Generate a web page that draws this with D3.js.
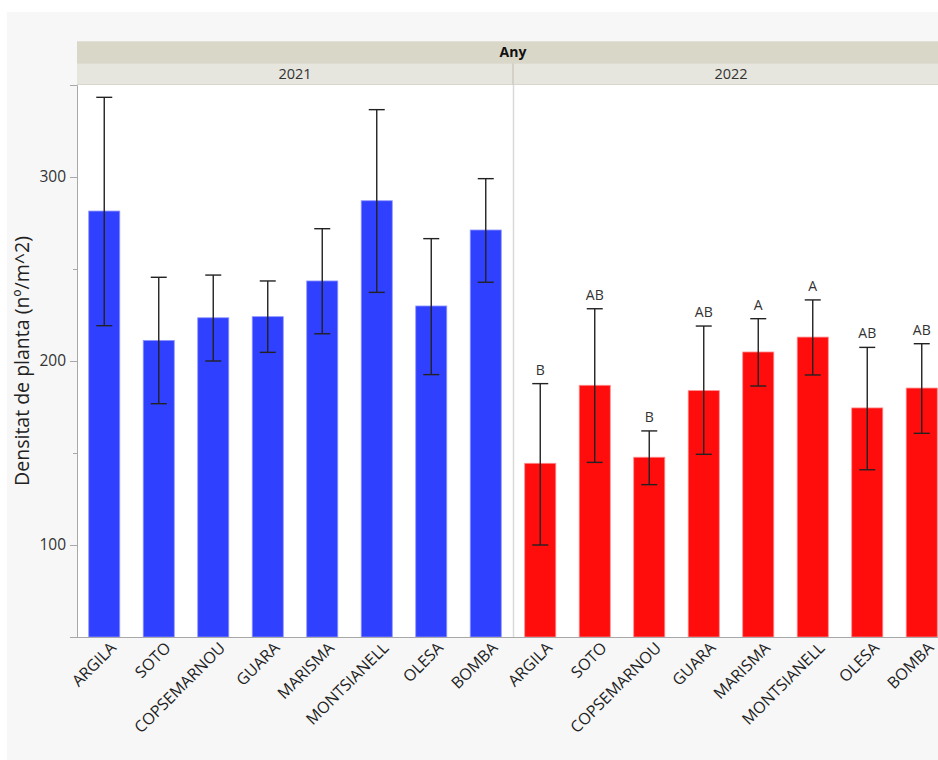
<!DOCTYPE html>
<html><head><meta charset="utf-8">
<script src="https://cdn.jsdelivr.net/npm/d3@7"></script>
<style>
html,body{margin:0;padding:0;background:#ffffff;overflow:hidden;}
svg{display:block;}
text{font-family:"Open Sans","Noto Sans",sans-serif;}
</style></head>
<body>
<svg id="c" width="938" height="760"></svg>
<script>
const categories = ["ARGILA","SOTO","COPSEMARNOU","GUARA","MARISMA","MONTSIANELL","OLESA","BOMBA"];
const years = ["2021","2022"];
const means2021 = [281.5, 211.2, 223.5, 224.1, 243.5, 287.1, 229.9, 271.2];
const upper2021 = [343.3, 245.5, 246.7, 243.5, 271.9, 336.6, 266.5, 299.1];
const lower2021 = [219.2, 176.8, 200.0, 204.7, 214.8, 237.3, 192.6, 242.8];
const means2022 = [144.4, 186.8, 147.7, 183.9, 204.9, 213.0, 174.5, 185.3];
const upper2022 = [187.7, 228.4, 162.0, 219.0, 223.0, 233.2, 207.4, 209.4];
const lower2022 = [100.0, 144.9, 132.8, 149.3, 186.4, 192.4, 140.9, 160.7];
const letters2022 = ["B","AB","B","AB","A","A","AB","AB"];
const letters2021 = ["","","","","","","",""];
const majorTicks = [100, 200, 300];
const minorTicks = [150, 250, 350];
const yLabel = "Densitat de planta (nº/m^2)";
const headerTitle = "Any";
const colors = {"2021": "#3040ff", "2022": "#ff0d0d"};

const svg = d3.select("#c");
svg.append("rect").attr("x",7).attr("y",12).attr("width",931).attr("height",748).attr("fill","#f7f7f7");

const L = 77, T = 85, B = 637, panelW = 436;
const y = d3.scaleLinear().domain([50, 350]).range([B, T]);
const px = d3.scaleBand().domain(years).range([L, L + 2*panelW]);
const x = d3.scaleBand().domain(categories).range([0, panelW]).paddingInner(0.43).paddingOuter(0.215);

// header bands
svg.append("rect").attr("x",L).attr("y",41).attr("width",2*panelW).attr("height",22).attr("fill","#d9d7c8");
svg.append("rect").attr("x",L).attr("y",63).attr("width",2*panelW).attr("height",22).attr("fill","#e6e6df");
svg.append("line").attr("x1",L).attr("x2",L+2*panelW).attr("y1",63.5).attr("y2",63.5).attr("stroke","#dedcd2");
svg.append("line").attr("x1",L).attr("x2",L+2*panelW).attr("y1",84.5).attr("y2",84.5).attr("stroke","#d8d6cc");
svg.append("line").attr("x1",L).attr("x2",L+2*panelW).attr("y1",41.5).attr("y2",41.5).attr("stroke","#e2e0d6");
svg.append("text").attr("x",L+panelW).attr("y",57).attr("text-anchor","middle")
  .attr("font-size",14).attr("font-weight","bold").attr("fill","#111").text(headerTitle);
years.forEach(yr=>{
  svg.append("text").attr("x",px(yr)+panelW/2).attr("y",79).attr("text-anchor","middle")
    .attr("font-size",14.5).attr("fill","#333").text(yr);
});
svg.append("line").attr("x1",px("2022")).attr("x2",px("2022")).attr("y1",63).attr("y2",85)
  .attr("stroke","#d4d2c8").attr("stroke-width",2);

// plot area
svg.append("rect").attr("x",L).attr("y",T).attr("width",2*panelW).attr("height",B-T).attr("fill","#ffffff");
svg.append("line").attr("x1",px("2022")+0.5).attr("x2",px("2022")+0.5).attr("y1",T).attr("y2",B)
  .attr("stroke","#d9d9d9").attr("stroke-width",1.5);

const data = {
  "2021": categories.map((c,i)=>({c, m:means2021[i], u:upper2021[i], l:lower2021[i], t:letters2021[i]})),
  "2022": categories.map((c,i)=>({c, m:means2022[i], u:upper2022[i], l:lower2022[i], t:letters2022[i]}))
};

years.forEach(yr=>{
  const g = svg.append("g").attr("transform",`translate(${px(yr)},0)`);
  g.selectAll("rect.bar").data(data[yr]).join("rect").attr("class","bar")
    .attr("x",d=>x(d.c)).attr("width",x.bandwidth())
    .attr("y",d=>y(d.m)).attr("height",d=>B-y(d.m))
    .attr("fill",colors[yr]).attr("stroke",colors[yr]==="#3040ff"?"#8f97ff":"#ff8c8c").attr("stroke-width",0.8);
  const cx = d=>x(d.c)+x.bandwidth()/2;
  g.selectAll("line.err").data(data[yr]).join("line").attr("class","err")
    .attr("x1",cx).attr("x2",cx).attr("y1",d=>y(d.u)).attr("y2",d=>y(d.l))
    .attr("stroke","#222").attr("stroke-width",1.4);
  ["u","l"].forEach(k=>{
    g.selectAll("line.cap"+k).data(data[yr]).join("line").attr("class","cap"+k)
      .attr("x1",d=>cx(d)-8).attr("x2",d=>cx(d)+8).attr("y1",d=>y(d[k])).attr("y2",d=>y(d[k]))
      .attr("stroke","#222").attr("stroke-width",1.4);
  });
  g.selectAll("text.let").data(data[yr].filter(d=>d.t)).join("text").attr("class","let")
    .attr("x",cx).attr("y",d=>y(d.u)-9).attr("text-anchor","middle")
    .attr("font-size",14).attr("fill","#333").text(d=>d.t);
  // x labels
  g.selectAll("text.xl").data(data[yr]).join("text").attr("class","xl")
    .attr("transform",d=>`translate(${cx(d)+9},${B+8}) rotate(-45)`)
    .attr("text-anchor","end").attr("dy","0.35em")
    .attr("font-size",16).attr("fill","#222").text(d=>d.c);
});

// axes lines
svg.append("line").attr("x1",L).attr("x2",L+2*panelW).attr("y1",B+0.5).attr("y2",B+0.5).attr("stroke","#a8a8a8");
const yAxis = d3.axisLeft(y).tickValues(majorTicks).tickSize(7).tickPadding(4);
const ya = svg.append("g").attr("transform",`translate(${L},0)`).call(yAxis);
ya.select(".domain").attr("stroke","#a8a8a8");
ya.selectAll(".tick line").attr("stroke","#a8a8a8");
ya.selectAll(".tick text").attr("font-size",15.5).attr("fill","#333").attr("font-family","'Open Sans','Noto Sans',sans-serif");
const yMinor = d3.axisLeft(y).tickValues(minorTicks).tickSize(4).tickFormat("");
const ym = svg.append("g").attr("transform",`translate(${L},0)`).call(yMinor);
ym.select(".domain").remove();
ym.selectAll(".tick line").attr("stroke","#a8a8a8");

svg.append("text").attr("transform",`translate(29,${(T+B)/2}) rotate(-90)`)
  .attr("text-anchor","middle").attr("font-size",19.5).attr("fill","#222").text(yLabel);
</script>
</body></html>
